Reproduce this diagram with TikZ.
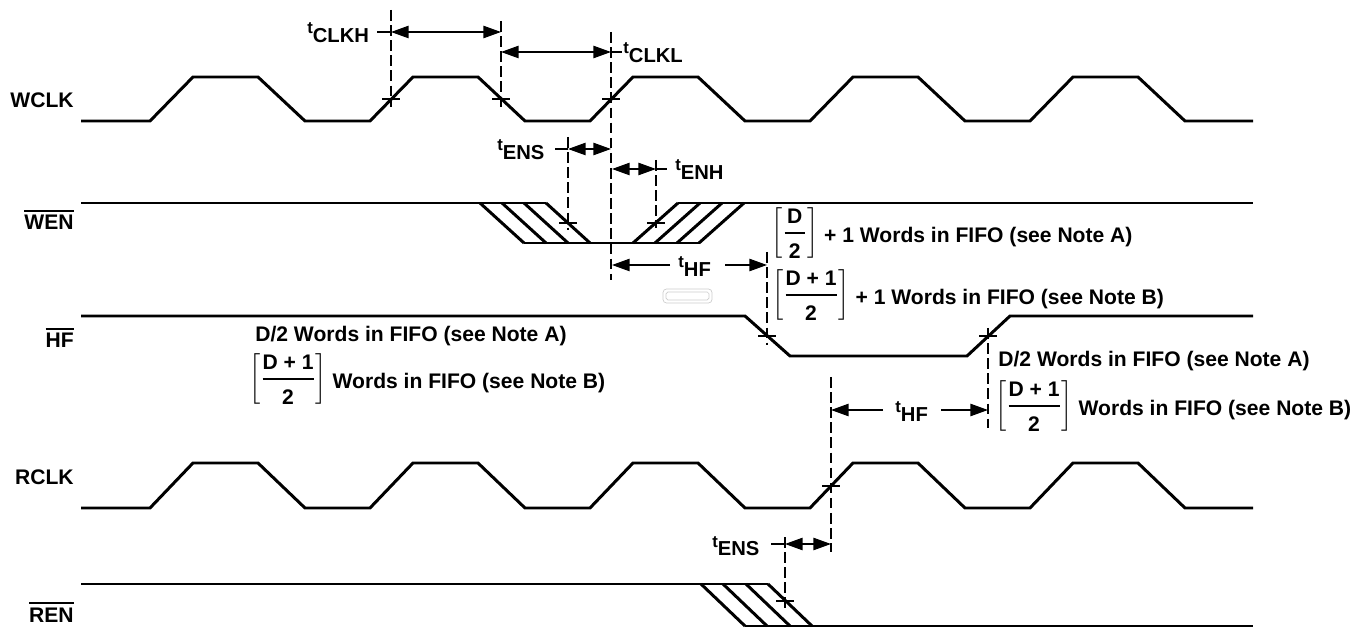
\documentclass[tikz,border=0pt]{standalone}
\usepackage{fontspec}
\setmainfont{Liberation Sans}
\usepackage{amsmath}
\usetikzlibrary{arrows.meta}

\newcommand{\tsub}[1]{{\fontsize{9.5}{10}\selectfont t}\raisebox{-4.8pt}{\fontsize{11.5}{13}\selectfont #1}}
\newcommand{\ovl}[1]{\sbox0{#1}\rlap{\rule[\dimexpr\ht0+2pt\relax]{\wd0}{1.1pt}}\usebox0}
\newcommand{\brk}[2]{\raisebox{2.5pt}{$\left[\genfrac{}{}{1pt}{0}{\mbox{#1}\rule[-2pt]{0pt}{0pt}}{\rule{0pt}{11pt}\mbox{#2}}\right]$}}

\tikzset{
  wave/.style={line width=1.7pt},
  guideline/.style={line width=0.6pt, dash pattern=on 6pt off 2.6pt},
  xmark/.style={line width=0.6pt},
  leader/.style={line width=0.8pt},
  dimarr/.style={line width=0.8pt, {Triangle[length=10pt,width=7pt]}-{Triangle[length=10pt,width=7pt]}},
  halfarr/.style={line width=0.8pt, -{Triangle[length=10pt,width=7pt]}},
  signame/.style={anchor=base east, inner sep=0pt, font=\bfseries\fontsize{12}{14}\selectfont},
  fifonote/.style={anchor=base west, inner sep=0pt, font=\bfseries\fontsize{12}{14}\selectfont},
  tlab/.style={anchor=base west, inner sep=0pt, font=\bfseries},
}

\begin{document}
\begin{tikzpicture}[x=0.02cm,y=-0.02cm]
\useasboundingbox (0,0) rectangle (1357,628);
%
% signal names
	\node[signame] (wclk) at (74,108) {WCLK};
	\node[signame] (wen) at (74,230) {\ovl{WEN}};
	\node[signame] (hf) at (74,348) {\ovl{HF}};
	\node[signame] (rclk) at (74,484) {RCLK};
	\node[signame] (ren) at (74,622) {\ovl{REN}};
%
% clocks
	\draw[wave] (81,121) \foreach \k in {0,...,4} {-- ({150+220*\k},121) -- ({193+220*\k},77) -- ({258+220*\k},77) -- ({305+220*\k},121)} -- (1253,121);
	\draw[wave] (81,508) \foreach \k in {0,...,4} {-- ({150+220*\k},508) -- ({193+220*\k},463) -- ({258+220*\k},463) -- ({305+220*\k},508)} -- (1253,508);
%
% WEN
	\draw[wave] (81,203) -- (546,203);
	\draw[wave] (678,203) -- (1253,203);
	\draw[wave] (524,243) -- (700,243);
	\foreach \d in {0,22,44,66} {
		\draw[wave] ({480+\d},203) -- ({524+\d},243);
		\draw[wave] ({633+\d},243) -- ({678+\d},203);
	}
%
% HF
	\draw[wave] (81,316) -- (745,316) -- (790,356) -- (967,356) -- (1010,316) -- (1253,316);
%
% REN
	\draw[wave] (81,584) -- (768,584);
	\draw[wave] (745,626) -- (1253,626);
	\foreach \d in {0,22,45,67}
		\draw[wave] ({701+\d},584) -- ({745+\d},626);
%
% guides and crossings
	\foreach \x/\ya/\yb in {391/10/107, 501/21/108, 611/32/280, 568/137/230, 656/160/228, 767/252/345, 988/328/428, 831/377/552, 785/537/608}
		\draw[guideline] (\x,\ya) -- (\x,\yb);
	\foreach \x/\y in {391/99, 501/99, 611/99, 568/223, 656/223, 767/336, 988/336, 831/486, 785/601}
		\draw[xmark] ({\x-9},\y) -- ({\x+9},\y);
%
% timing labels
	\node[tlab] (tclkh) at (307,34) {\tsub{CLKH}};
	\node[tlab] (tclkl) at (623,54) {\tsub{CLKL}};
	\node[tlab] (tens) at (497,151) {\tsub{ENS}};
	\node[tlab] (tenh) at (675,171) {\tsub{ENH}};
	\node[tlab] (thf) at (678,268) {\tsub{HF}};
	\node[tlab] (thfb) at (895,413) {\tsub{HF}};
	\node[tlab] (tensb) at (712,547) {\tsub{ENS}};
%
	\coordinate (a0) at (377,32); \coordinate (a1) at (391,32); \coordinate (a2) at (501,32);
	\coordinate (b1) at (501,52); \coordinate (b2) at (611,52); \coordinate (b3) at (622,52);
	\coordinate (c0) at (555,149); \coordinate (c1) at (568,149); \coordinate (c2) at (611,149);
	\coordinate (d1) at (612,169); \coordinate (d2) at (656,169); \coordinate (d3) at (667,169);
	\coordinate (f1) at (612,265); \coordinate (f2) at (670,265); \coordinate (f3) at (725,265); \coordinate (f4) at (767,265);
	\coordinate (k1) at (831,410); \coordinate (k2) at (883,410); \coordinate (k3) at (941,410); \coordinate (k4) at (988,410);
	\coordinate (m0) at (771,544); \coordinate (m1) at (785,544); \coordinate (m2) at (831,544);
%
	\draw[leader] (a0) -- (a1);
	\draw[dimarr] (a1) -- (a2);
	\draw[dimarr] (b1) -- (b2);
	\draw[leader] (b2) -- (b3);
	\draw[leader] (c0) -- (c1);
	\draw[dimarr] (c1) -- (c2);
	\draw[dimarr] (d1) -- (d2);
	\draw[leader] (d2) -- (d3);
	\draw[halfarr] (f2) -- (f1);
	\draw[halfarr] (f3) -- (f4);
	\draw[halfarr] (k2) -- (k1);
	\draw[halfarr] (k3) -- (k4);
	\draw[leader] (m0) -- (m1);
	\draw[dimarr] (m1) -- (m2);
%
% FIFO notes
	\node[fifonote] (na1) at (255,342) {D/2 Words in FIFO (see Note A)};
	\node[fifonote] (nb1) at (249,389) {\brk{D + 1}{2}\ Words in FIFO (see Note B)};
	\node[fifonote] (na2) at (771,243) {\brk{\hspace{1.5pt}D\hspace{1.5pt}}{2}\ + 1 Words in FIFO (see Note A)};
	\node[fifonote] (nb2) at (772,305) {\brk{D + 1}{2}\ + 1 Words in FIFO (see Note B)};
	\node[fifonote] (na3) at (998,367) {D/2 Words in FIFO (see Note A)};
	\node[fifonote] (nb3) at (995,416) {\brk{D + 1}{2}\ Words in FIFO (see Note B)};
%
	\draw[gray!40, rounded corners=2pt] (663,289) rectangle (712,303);
	\draw[gray!40, rounded corners=1pt] (666,292) rectangle (709,300);
\end{tikzpicture}
\end{document}
